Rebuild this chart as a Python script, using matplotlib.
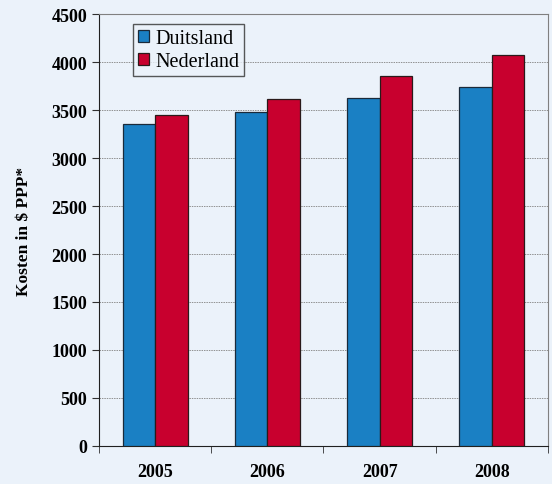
import numpy as np
import matplotlib.pyplot as plt

years = ['2005', '2006', '2007', '2008']
duitsland = [3350, 3480, 3630, 3745]
nederland = [3450, 3610, 3850, 4070]

bg = '#ebf2fa'
plt.rcParams['font.family'] = ['Liberation Serif', 'DejaVu Serif']

fig = plt.figure(figsize=(5.52, 4.85), dpi=100, facecolor=bg)
ax = fig.add_axes([0.1793, 0.0784, 0.8135, 0.8906], facecolor=bg)

x = np.arange(len(years))
w = 0.29
ax.bar(x - w / 2, duitsland, w, color='#1a80c4', edgecolor='#1a2a3a', linewidth=0.9,
       label='Duitsland', zorder=3)
ax.bar(x + w / 2, nederland, w, color='#c8002e', edgecolor='#2a1a1a', linewidth=0.9,
       label='Nederland', zorder=3)

ax.set_xlim(-0.5, 3.5)
ax.set_ylim(0, 4500)
ax.set_yticks(range(0, 4501, 500))
ax.yaxis.grid(True, color='#909090', linestyle=(0, (1.5, 1)), linewidth=0.7, zorder=0)

ax.set_xticks(x)
ax.set_xticklabels(years, fontsize=13, fontweight='bold')
ax.set_xticks(np.arange(-0.5, 4.0, 1.0), minor=True)
ax.tick_params(axis='x', which='major', length=0, pad=12)
ax.tick_params(axis='x', which='minor', length=5, direction='out', color='#303030')
ax.tick_params(axis='y', length=5, direction='out', labelsize=13, color='#303030')
for lab in ax.get_yticklabels():
    lab.set_fontweight('bold')

ax.spines['left'].set_color('#202020')
ax.spines['bottom'].set_color('#202020')
ax.spines['top'].set_color('#808080')
ax.spines['right'].set_color('#808080')

ax.set_ylabel('Kosten in $ PPP*', fontsize=12.5, fontweight='bold', labelpad=14)

leg = ax.legend(loc='upper left', bbox_to_anchor=(0.076, 0.976), fontsize=14.5,
                frameon=True, fancybox=False, edgecolor='#303030', facecolor=bg,
                handlelength=0.55, handleheight=0.55, handletextpad=0.3,
                borderpad=0.25, labelspacing=0.2, borderaxespad=0)
leg.get_frame().set_linewidth(1.0)

fig.savefig('out.png', dpi=100, facecolor=bg)
